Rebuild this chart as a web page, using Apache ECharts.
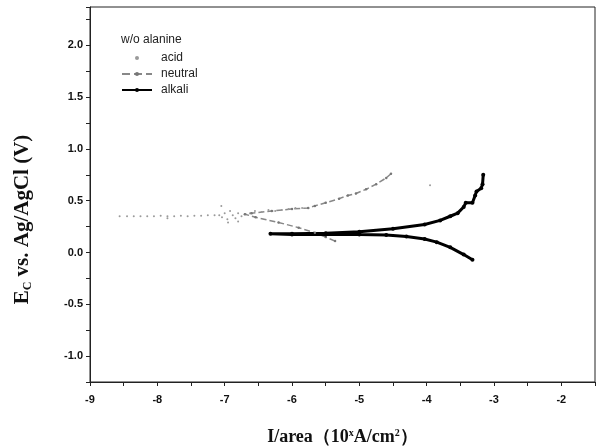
<!DOCTYPE html>
<html>
<head>
<meta charset="utf-8">
<script src="https://cdn.jsdelivr.net/npm/echarts@6/dist/echarts.min.js"></script>
<style>html,body{margin:0;padding:0;background:#fff;}#c{width:598px;height:448px;}</style>
</head>
<body>
<div id="c"></div>
<script>
// Data (x = log current density, y = potential in V)
const acidX = [-8.56,-8.45,-8.35,-8.25,-8.15,-8.05,-7.95,-7.85,-7.85,-7.75,-7.65,-7.55,-7.45,-7.35,-7.25,-7.15,-7.08,-7.05,-7.04,-7.0,-6.96,-6.95,-6.92,-6.88,-6.84,-6.8,-6.8,-6.75,-6.7,-6.62,-6.55,-6.45,-6.35,-6.25,-6.15,-6.05,-5.95,-5.85,-5.76,-3.95];
const acidY = [0.35,0.35,0.35,0.35,0.35,0.35,0.355,0.35,0.33,0.35,0.355,0.35,0.355,0.355,0.36,0.36,0.36,0.45,0.34,0.38,0.32,0.29,0.40,0.36,0.33,0.38,0.30,0.35,0.37,0.38,0.40,0.39,0.41,0.40,0.41,0.42,0.43,0.43,0.43,0.65];
const neutralX = [-5.36,-5.5,-5.66,-5.9,-6.2,-6.54,-6.7,-6.6,-6.3,-6.0,-5.76,-5.66,-5.5,-5.3,-5.17,-5.05,-4.9,-4.75,-4.6,-4.53];
const neutralY = [0.11,0.15,0.19,0.24,0.29,0.34,0.37,0.38,0.40,0.42,0.43,0.45,0.48,0.52,0.55,0.57,0.61,0.66,0.72,0.76];
const alkaliX = [-3.32,-3.45,-3.65,-3.85,-4.03,-4.3,-4.6,-5.0,-5.5,-6.0,-6.32,-6.0,-5.5,-5.0,-4.5,-4.03,-3.8,-3.65,-3.54,-3.45,-3.42,-3.32,-3.28,-3.26,-3.19,-3.17,-3.16];
const alkaliY = [-0.07,-0.02,0.05,0.10,0.13,0.155,0.17,0.175,0.175,0.175,0.18,0.18,0.185,0.2,0.23,0.27,0.31,0.35,0.38,0.44,0.48,0.48,0.55,0.59,0.62,0.66,0.75];
const seriesNames = ['acid','neutral','alkali'];
const legendTitle = 'w/o alanine';

const zip = (xs, ys) => xs.map((x, i) => [x, ys[i]]);
const chart = echarts.init(document.getElementById('c'), null, {renderer: 'canvas'});
const tickFont = {fontFamily: 'Liberation Sans', fontWeight: 'bold', fontSize: 11, color: '#111'};
chart.setOption({
  animation: false,
  backgroundColor: '#fff',
  grid: {left: 90, right: 3, top: 7, bottom: 66, show: true, borderColor: '#222', borderWidth: 1,
         containLabel: false, outerBoundsMode: 'none'},
  graphic: [{type: 'text', left: 121, top: 34, style: {text: legendTitle, font: '12px "Liberation Sans"', fill: '#222'}}],
  legend: {
    orient: 'vertical', left: 116, top: 47, itemGap: 4, itemWidth: 30, itemHeight: 5,
    textStyle: {fontFamily: 'Liberation Sans', fontSize: 12, color: '#222', padding: [0,0,0,4]},
    data: seriesNames
  },
  xAxis: {
    type: 'value', min: -9, max: -1.5, interval: 0.5,
    axisLine: {onZero: false, lineStyle: {color: '#222', width: 1}},
    axisTick: {length: 4, lineStyle: {color: '#222'}},
    splitLine: {show: false},
    axisLabel: Object.assign({}, tickFont, {margin: 12, formatter: v => Number.isInteger(v) ? String(v) : ''}),
    name: '{b|I/area（10}{s|x}{b|A/cm}{s|2}{b|）}',
    nameLocation: 'middle', nameGap: 46,
    nameTextStyle: {rich: {
      b: {fontFamily: 'Liberation Serif', fontWeight: 'bold', fontSize: 18, color: '#111'},
      s: {fontFamily: 'Liberation Serif', fontWeight: 'bold', fontSize: 10, color: '#111', verticalAlign: 'top', padding: [0,0,9,0]}
    }}
  },
  yAxis: {
    type: 'value', min: -1.25, max: 2.37, interval: 0.25,
    axisLine: {show: true, onZero: false, lineStyle: {color: '#222', width: 1}},
    axisTick: {show: true, length: 4, lineStyle: {color: '#222'}},
    splitLine: {show: false},
    axisLabel: Object.assign({}, tickFont, {margin: 7, formatter: v => {
      const r = Math.round(v * 100) / 100;
      return (Math.abs(r * 2 - Math.round(r * 2)) < 1e-6) ? r.toFixed(1) : '';
    }}),
    name: '{b|E}{s|C}{b| vs. Ag/AgCl (V)}',
    nameLocation: 'middle', nameGap: 56, nameRotate: 90,
    nameTextStyle: {padding: [0, 50, 0, 0], rich: {
      b: {fontFamily: 'Liberation Serif', fontWeight: 'bold', fontSize: 21, color: '#111'},
      s: {fontFamily: 'Liberation Serif', fontWeight: 'bold', fontSize: 12, color: '#111', verticalAlign: 'bottom', padding: [10,0,0,0]}
    }}
  },
  series: [
    {name: seriesNames[0], type: 'line', data: zip(acidX, acidY), symbol: 'circle', symbolSize: 2,
     itemStyle: {color: '#9a9a9a'}, lineStyle: {width: 0}},
    {name: seriesNames[1], type: 'line', data: zip(neutralX, neutralY), symbol: 'circle', symbolSize: 2.5,
     itemStyle: {color: '#777'}, lineStyle: {width: 1.5, type: 'dashed', color: '#888'}},
    {name: seriesNames[2], type: 'line', data: zip(alkaliX, alkaliY), symbol: 'circle', symbolSize: 4,
     itemStyle: {color: '#000'}, lineStyle: {width: 3, color: '#000'}}
  ]
});
</script>
</body>
</html>
